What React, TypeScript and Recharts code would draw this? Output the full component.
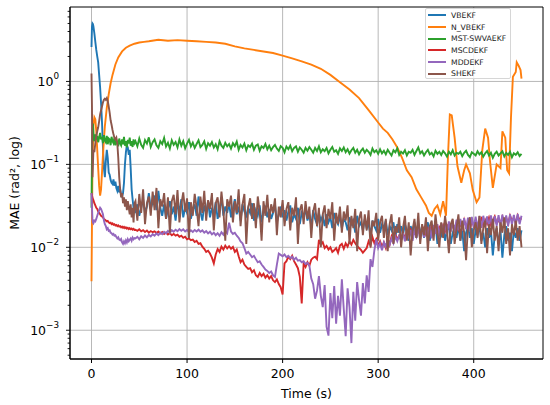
import { LineChart, Line, XAxis, YAxis, CartesianGrid } from 'recharts';

// time stamps shared by the noisy filters (fine steps at the start, 2 s afterwards)
const TIME = [
  0, 0.5, 1, 1.5,
  2, 3, 4, 5, 6, 7, 8, 9, 10, 11,
  12, 13, 14, 15, 16, 17, 18, 19, 20, 21,
  22, 23, 24, 25, 26, 27, 28, 29, 30, 31,
  32, 33, 34, 35, 36, 37, 38, 39, 40, 41,
  42, 43, 44, 45,
  46, 48, 50, 52, 54, 56, 58, 60, 62, 64,
  66, 68, 70, 72, 74, 76, 78, 80, 82, 84,
  86, 88, 90, 92, 94, 96, 98, 100, 102, 104,
  106, 108, 110, 112, 114, 116, 118, 120, 122, 124,
  126, 128, 130, 132, 134, 136, 138, 140, 142, 144,
  146, 148, 150, 152, 154, 156, 158, 160, 162, 164,
  166, 168, 170, 172, 174, 176, 178, 180, 182, 184,
  186, 188, 190, 192, 194, 196, 198, 200, 202, 204,
  206, 208, 210, 212, 214, 216, 218, 220, 222, 224,
  226, 228, 230, 232, 234, 236, 238, 240, 242, 244,
  246, 248, 250, 252, 254, 256, 258, 260, 262, 264,
  266, 268, 270, 272, 274, 276, 278, 280, 282, 284,
  286, 288, 290, 292, 294, 296, 298, 300, 302, 304,
  306, 308, 310, 312, 314, 316, 318, 320, 322, 324,
  326, 328, 330, 332, 334, 336, 338, 340, 342, 344,
  346, 348, 350, 352, 354, 356, 358, 360, 362, 364,
  366, 368, 370, 372, 374, 376, 378, 380, 382, 384,
  386, 388, 390, 392, 394, 396, 398, 400, 402, 404,
  406, 408, 410, 412, 414, 416, 418, 420, 422, 424,
  426, 428, 430, 432, 434, 436, 438, 440, 442, 444,
  446, 448, 450,
];

const VBEKF = [
  2.6, 4.6, 5.0, 4.9,
  4.6, 3.8, 3.0, 2.4, 2.0, 1.7, 1.2, 0.85, 0.55, 0.32,
  0.16, 0.09, 0.07, 0.11, 0.15, 0.12, 0.08, 0.075, 0.065, 0.06,
  0.058, 0.066, 0.055, 0.062, 0.052, 0.048, 0.055, 0.046, 0.05, 0.043,
  0.041, 0.045, 0.06, 0.1, 0.14, 0.17, 0.16, 0.13, 0.15, 0.09,
  0.05, 0.038, 0.03, 0.028,
  0.027, 0.033, 0.024, 0.03, 0.038, 0.026, 0.031, 0.045, 0.029, 0.035,
  0.042, 0.028, 0.048, 0.03, 0.024, 0.033, 0.022, 0.029, 0.036, 0.025,
  0.031, 0.021, 0.034, 0.027, 0.038, 0.023, 0.03, 0.026, 0.035, 0.022,
  0.028, 0.033, 0.024, 0.041, 0.027, 0.021, 0.032, 0.026, 0.036, 0.023,
  0.03, 0.025, 0.035, 0.022, 0.028, 0.04, 0.024, 0.031, 0.026, 0.034,
  0.023, 0.029, 0.038, 0.025, 0.031, 0.021, 0.033, 0.027, 0.024, 0.03,
  0.026, 0.034, 0.021, 0.028, 0.024, 0.032, 0.02, 0.027, 0.03, 0.023,
  0.029, 0.022, 0.026, 0.033, 0.02, 0.025, 0.031, 0.023, 0.028, 0.021,
  0.027, 0.032, 0.02, 0.025, 0.022, 0.03, 0.019, 0.026, 0.023, 0.029,
  0.021, 0.025, 0.018, 0.028, 0.022, 0.019, 0.026, 0.021, 0.024, 0.018,
  0.025, 0.02, 0.023, 0.017, 0.026, 0.021, 0.019, 0.024, 0.017, 0.022,
  0.02, 0.016, 0.023, 0.019, 0.021, 0.015, 0.024, 0.018, 0.02, 0.016,
  0.022, 0.017, 0.019, 0.014, 0.021, 0.018, 0.016, 0.022, 0.015, 0.019,
  0.017, 0.021, 0.014, 0.018, 0.016, 0.02, 0.013, 0.019, 0.015, 0.018,
  0.014, 0.019, 0.016, 0.012, 0.018, 0.015, 0.02, 0.013, 0.017, 0.015,
  0.018, 0.013, 0.016, 0.02, 0.012, 0.017, 0.014, 0.019, 0.011, 0.016,
  0.014, 0.018, 0.012, 0.016, 0.019, 0.011, 0.015, 0.017, 0.013, 0.018,
  0.012, 0.016, 0.009, 0.015, 0.018, 0.013, 0.017, 0.011, 0.016, 0.014,
  0.018, 0.012, 0.015, 0.01, 0.017, 0.013, 0.016, 0.008, 0.014, 0.017,
  0.011, 0.016, 0.0075, 0.014, 0.018, 0.012, 0.015, 0.009, 0.016, 0.013,
  0.017, 0.012, 0.016,
];

const MST_SWVAEKF = [
  0.03, 0.12, 0.26, 0.31,
  0.24, 0.19, 0.23, 0.2, 0.22, 0.185, 0.21, 0.24, 0.2, 0.215,
  0.18, 0.225, 0.195, 0.185, 0.22, 0.175, 0.205, 0.2, 0.17, 0.215,
  0.19, 0.18, 0.21, 0.17, 0.2, 0.18, 0.165, 0.205, 0.18, 0.17,
  0.2, 0.175, 0.215, 0.168, 0.19, 0.16, 0.198, 0.178, 0.21, 0.168,
  0.19, 0.162, 0.2, 0.18,
  0.19, 0.165, 0.205, 0.172, 0.158, 0.196, 0.178, 0.212, 0.162, 0.185,
  0.2, 0.17, 0.158, 0.19, 0.176, 0.208, 0.164, 0.182, 0.155, 0.195,
  0.172, 0.186, 0.16, 0.2, 0.168, 0.19, 0.156, 0.178, 0.198, 0.165,
  0.183, 0.158, 0.176, 0.195, 0.162, 0.172, 0.19, 0.154, 0.18, 0.168,
  0.186, 0.16, 0.175, 0.152, 0.19, 0.168, 0.158, 0.182, 0.165, 0.176,
  0.155, 0.18, 0.166, 0.188, 0.15, 0.172, 0.16, 0.178, 0.148, 0.17,
  0.162, 0.178, 0.15, 0.168, 0.174, 0.146, 0.165, 0.158, 0.176, 0.152,
  0.168, 0.148, 0.162, 0.172, 0.155, 0.145, 0.166, 0.158, 0.14, 0.164,
  0.152, 0.168, 0.144, 0.158, 0.165, 0.142, 0.16, 0.15, 0.138, 0.158,
  0.146, 0.162, 0.15, 0.138, 0.158, 0.145, 0.165, 0.14, 0.152, 0.144,
  0.158, 0.136, 0.15, 0.162, 0.142, 0.148, 0.134, 0.156, 0.145, 0.16,
  0.14, 0.152, 0.135, 0.148, 0.158, 0.138, 0.15, 0.132, 0.146, 0.155,
  0.138, 0.15, 0.142, 0.13, 0.155, 0.14, 0.148, 0.134, 0.152, 0.136,
  0.146, 0.132, 0.15, 0.138, 0.128, 0.148, 0.14, 0.156, 0.13, 0.142,
  0.135, 0.148, 0.128, 0.142, 0.138, 0.15, 0.13, 0.145, 0.16, 0.136,
  0.144, 0.128, 0.14, 0.15, 0.132, 0.138, 0.125, 0.146, 0.134, 0.142,
  0.13, 0.145, 0.136, 0.124, 0.142, 0.132, 0.148, 0.128, 0.138, 0.134,
  0.142, 0.126, 0.138, 0.146, 0.13, 0.122, 0.14, 0.134, 0.128, 0.144,
  0.132, 0.14, 0.124, 0.136, 0.145, 0.128, 0.138, 0.12, 0.134, 0.142,
  0.128, 0.136, 0.144, 0.125, 0.138, 0.13, 0.142, 0.122, 0.136, 0.13,
  0.14, 0.126, 0.134,
];

const MSCDEKF = [
  0.045, 0.042, 0.04, 0.038,
  0.037, 0.034, 0.032, 0.03, 0.029, 0.027, 0.026, 0.025, 0.024, 0.0235,
  0.023, 0.022, 0.0215, 0.021, 0.0205, 0.0208, 0.02, 0.0196, 0.0198, 0.019,
  0.0194, 0.0187, 0.019, 0.0183, 0.0186, 0.018, 0.0184, 0.0178, 0.018, 0.0174,
  0.0178, 0.0172, 0.0176, 0.017, 0.0174, 0.0168, 0.0172, 0.0166, 0.017, 0.0165,
  0.0168, 0.0163, 0.0167, 0.0162,
  0.0163, 0.0158, 0.0165, 0.0156, 0.0161, 0.0153, 0.0159, 0.015, 0.0157, 0.0152,
  0.0156, 0.0149, 0.0155, 0.0147, 0.0153, 0.0145, 0.0151, 0.0143, 0.0148, 0.014,
  0.0145, 0.0138, 0.0142, 0.0134, 0.0138, 0.013, 0.0134, 0.0125, 0.0128, 0.0122,
  0.0124, 0.0116, 0.012, 0.011, 0.0112, 0.0102, 0.0096, 0.0088, 0.0091, 0.0084,
  0.0075, 0.0064, 0.0082, 0.0095, 0.0088, 0.0102, 0.0094, 0.0105, 0.0097, 0.0103,
  0.0096, 0.0101, 0.0088, 0.0094, 0.0078, 0.0066, 0.0071, 0.0062, 0.0058, 0.0055,
  0.0056, 0.005, 0.0053, 0.0046, 0.0044, 0.0049, 0.0045, 0.0048, 0.0043, 0.0046,
  0.0042, 0.0045, 0.004, 0.0038, 0.0041, 0.0036, 0.0033, 0.0027, 0.0064, 0.0068,
  0.0077, 0.0072, 0.0079, 0.0068, 0.0062, 0.0056, 0.0044, 0.0021, 0.0064, 0.0058,
  0.0066, 0.006, 0.0071, 0.0075, 0.0077, 0.0072, 0.0123, 0.0108, 0.0115, 0.0098,
  0.0104, 0.0094, 0.01, 0.0088, 0.0092, 0.0098, 0.0086, 0.0105, 0.011, 0.0096,
  0.0112, 0.0102, 0.0118, 0.0108, 0.0123, 0.0112, 0.0104, 0.0098, 0.0093, 0.0086,
  0.0092, 0.0098, 0.0118, 0.0105, 0.0133, 0.0112, 0.0125, 0.0104, 0.0118, 0.0102,
  0.0114, 0.0098, 0.0126, 0.0108, 0.0135, 0.0118, 0.0142, 0.0125, 0.0138, 0.0122,
  0.0148, 0.0128, 0.0155, 0.0138, 0.0162, 0.0135, 0.0152, 0.014, 0.0165, 0.0145,
  0.0158, 0.0172, 0.0145, 0.0168, 0.0152, 0.0178, 0.0156, 0.0182, 0.0148, 0.0175,
  0.016, 0.0185, 0.0155, 0.0178, 0.0192, 0.0162, 0.0188, 0.017, 0.0198, 0.0165,
  0.0192, 0.0172, 0.0214, 0.0178, 0.0196, 0.0168, 0.0205, 0.0185, 0.021, 0.0175,
  0.02, 0.0222, 0.0182, 0.0215, 0.0192, 0.0228, 0.0186, 0.021, 0.0235, 0.0195,
  0.0218, 0.0188, 0.0232, 0.0202, 0.0225, 0.0192, 0.024, 0.0208, 0.0228, 0.0198,
  0.0242, 0.0212, 0.0225,
];

const MDDEKF = [
  0.045, 0.03, 0.022, 0.02,
  0.0195, 0.021, 0.0205, 0.022, 0.024, 0.026, 0.028, 0.03, 0.029, 0.027,
  0.025, 0.021, 0.019, 0.018, 0.0165, 0.017, 0.0158, 0.016, 0.015, 0.0148,
  0.0142, 0.0145, 0.0138, 0.014, 0.0133, 0.0128, 0.0132, 0.0124, 0.0122, 0.0126,
  0.0115, 0.011, 0.0118, 0.0112, 0.0121, 0.0114, 0.0125, 0.0118, 0.0123, 0.0128,
  0.012, 0.0131, 0.0125, 0.0129,
  0.0128, 0.0134, 0.0125, 0.0136, 0.013, 0.0139, 0.0132, 0.0141, 0.0135, 0.0144,
  0.0138, 0.0147, 0.014, 0.015, 0.0144, 0.0154, 0.0147, 0.0158, 0.015, 0.0161,
  0.0154, 0.0163, 0.0156, 0.0166, 0.0158, 0.0165, 0.0155, 0.0162, 0.0152, 0.016,
  0.0153, 0.0162, 0.0155, 0.0163, 0.0154, 0.016, 0.015, 0.0157, 0.0147, 0.0154,
  0.0143, 0.015, 0.014, 0.0148, 0.0138, 0.0152, 0.0142, 0.0158, 0.0148, 0.0198,
  0.0155, 0.0145, 0.015, 0.0138, 0.013, 0.0118, 0.0112, 0.0098, 0.0084, 0.0088,
  0.0082, 0.0076, 0.0079, 0.0072, 0.0066, 0.0068, 0.0062, 0.0058, 0.0054, 0.0052,
  0.0049, 0.0051, 0.0046, 0.0044, 0.0062, 0.0084, 0.0081, 0.0078, 0.0082, 0.0076,
  0.0079, 0.0074, 0.0077, 0.0071, 0.0075, 0.0069, 0.007, 0.0066, 0.0068, 0.0063,
  0.0065, 0.006, 0.0042, 0.0036, 0.0024, 0.003, 0.0045, 0.0026, 0.0019, 0.0035,
  0.0011, 0.00086, 0.0028, 0.0014, 0.0034, 0.0012, 0.0026, 0.0015, 0.0041, 0.0018,
  0.00085, 0.0032, 0.0019, 0.0007, 0.0029, 0.0013, 0.0038, 0.0023, 0.0015, 0.0037,
  0.0021, 0.0046, 0.0029, 0.0072, 0.0058, 0.0092, 0.0125, 0.0098, 0.0112, 0.0092,
  0.0115, 0.0102, 0.0124, 0.0108, 0.0128, 0.0112, 0.0135, 0.0118, 0.0138, 0.0122,
  0.0148, 0.0118, 0.0155, 0.0128, 0.0162, 0.012, 0.0158, 0.0135, 0.0168, 0.0126,
  0.017, 0.0132, 0.0178, 0.0138, 0.0182, 0.0128, 0.0186, 0.0145, 0.019, 0.0136,
  0.0195, 0.0148, 0.02, 0.0142, 0.0205, 0.0155, 0.021, 0.015, 0.0215, 0.016,
  0.022, 0.0158, 0.0224, 0.0165, 0.0228, 0.016, 0.0232, 0.017, 0.0235, 0.0168,
  0.0238, 0.0172, 0.024, 0.0178, 0.0236, 0.0175, 0.0242, 0.018, 0.0238, 0.0182,
  0.0244, 0.0178, 0.0248, 0.0185, 0.0242, 0.018, 0.025, 0.0188, 0.0246, 0.0184,
  0.0252, 0.019, 0.024,
];

const SHEKF = [
  1.25, 0.5, 0.07, 0.1,
  0.15, 0.14, 0.18, 0.22, 0.25, 0.28, 0.33, 0.4, 0.45, 0.5,
  0.56, 0.6, 0.62, 0.6, 0.63, 0.58, 0.5, 0.42, 0.34, 0.3,
  0.26, 0.23, 0.21, 0.2, 0.21, 0.18, 0.12, 0.07, 0.05, 0.04,
  0.045, 0.034, 0.04, 0.031, 0.038, 0.028, 0.036, 0.03, 0.025, 0.033,
  0.023, 0.03, 0.02, 0.034,
  0.036, 0.021, 0.044, 0.026, 0.05, 0.019, 0.034, 0.041, 0.024, 0.047,
  0.028, 0.052, 0.017, 0.038, 0.031, 0.045, 0.022, 0.04, 0.015, 0.036,
  0.043, 0.025, 0.049, 0.02, 0.033, 0.046, 0.027, 0.039, 0.013, 0.035,
  0.024, 0.044, 0.03, 0.018, 0.041, 0.026, 0.048, 0.021, 0.037, 0.029,
  0.045, 0.016, 0.034, 0.04, 0.023, 0.047, 0.028, 0.012, 0.038, 0.031,
  0.042, 0.02, 0.036, 0.026, 0.05, 0.018, 0.033, 0.044, 0.011, 0.03,
  0.039, 0.022, 0.034, 0.017, 0.041, 0.027, 0.012, 0.036, 0.024, 0.043,
  0.02, 0.033, 0.026, 0.039, 0.014, 0.031, 0.023, 0.037, 0.018, 0.029,
  0.035, 0.016, 0.03, 0.024, 0.04, 0.011, 0.028, 0.033, 0.019, 0.036,
  0.022, 0.031, 0.013, 0.027, 0.034, 0.018, 0.03, 0.01, 0.025, 0.032,
  0.017, 0.029, 0.022, 0.035, 0.012, 0.026, 0.019, 0.031, 0.015, 0.027,
  0.021, 0.032, 0.011, 0.024, 0.017, 0.029, 0.009, 0.022, 0.027, 0.014,
  0.025, 0.016, 0.028, 0.01, 0.021, 0.018, 0.026, 0.012, 0.02, 0.024,
  0.013, 0.022, 0.009, 0.019, 0.025, 0.011, 0.018, 0.015, 0.023, 0.01,
  0.017, 0.024, 0.012, 0.02, 0.008, 0.016, 0.022, 0.013, 0.026, 0.011,
  0.019, 0.014, 0.023, 0.009, 0.018, 0.021, 0.012, 0.025, 0.015, 0.01,
  0.02, 0.013, 0.024, 0.016, 0.0085, 0.019, 0.022, 0.011, 0.017, 0.025,
  0.012, 0.021, 0.015, 0.007, 0.018, 0.023, 0.01, 0.016, 0.02, 0.013,
  0.024, 0.011, 0.017, 0.021, 0.0085, 0.019, 0.014, 0.022, 0.012, 0.018,
  0.009, 0.02, 0.015, 0.023, 0.011, 0.017, 0.008, 0.019, 0.014, 0.021,
  0.012, 0.018, 0.01,
];

// N_VBEKF is smooth most of the time, so it has its own time stamps
const N_VBEKF_TIME = [
  0, 1, 2, 3, 4, 5, 6, 7, 8, 9, 10, 11, 12, 13, 14, 16, 18, 20, 22, 25,
  28, 32, 36, 40, 45, 50, 55, 60, 65, 70, 80, 90, 100, 110, 120, 130, 140, 150, 160, 170,
  180, 190, 200, 210, 220, 230, 240, 250, 260, 270, 280, 290, 300, 305, 310, 315, 320, 325, 330, 335,
  340, 345, 350, 353, 356, 359, 362, 365, 368, 371, 373, 375, 377, 380, 383, 387, 390, 392, 396, 399,
  403, 406, 409, 412, 415, 417, 420, 424, 428, 430, 433, 435, 437, 439, 441, 444, 445, 447, 449, 450,
];
const N_VBEKF = [
  0.0039, 0.1, 0.3, 0.37, 0.35, 0.25, 0.15, 0.09, 0.055, 0.042, 0.05, 0.08, 0.13, 0.2, 0.29, 0.48, 0.7, 0.95, 1.2, 1.6,
  1.95, 2.3, 2.55, 2.7, 2.85, 2.95, 3.0, 3.05, 3.12, 3.18, 3.1, 3.15, 3.1, 3.05, 3.0, 2.95, 2.85, 2.65, 2.5, 2.4,
  2.3, 2.2, 2.05, 1.9, 1.75, 1.6, 1.42, 1.2, 0.98, 0.8, 0.63, 0.45, 0.32, 0.27, 0.24, 0.2, 0.16, 0.12, 0.085, 0.07,
  0.05, 0.04, 0.032, 0.026, 0.024, 0.029, 0.032, 0.025, 0.036, 0.024, 0.12, 0.4, 0.39, 0.21, 0.095, 0.06, 0.085, 0.1, 0.078, 0.049,
  0.035, 0.04, 0.15, 0.27, 0.21, 0.11, 0.052, 0.1, 0.09, 0.25, 0.21, 0.085, 0.078, 0.37, 1.14, 1.3, 1.7, 1.55, 1.37, 1.08,
];

const X_DOMAIN = [-22.5, 472.5];
const Y_DOMAIN = [0.00045, 7.9];
const X_TICKS = [0, 100, 200, 300, 400];
const Y_MAJOR = [0.001, 0.01, 0.1, 1];
const Y_EXPONENTS = ['−3', '−2', '−1', '0'];
const Y_MINOR = [
  0.0005, 0.0006, 0.0007, 0.0008, 0.0009,
  0.002, 0.003, 0.004, 0.005, 0.006, 0.007, 0.008, 0.009,
  0.02, 0.03, 0.04, 0.05, 0.06, 0.07, 0.08, 0.09,
  0.2, 0.3, 0.4, 0.5, 0.6, 0.7, 0.8, 0.9,
  2, 3, 4, 5, 6, 7,
];

const SERIES = [
  { name: 'VBEKF', color: '#1f77b4', time: TIME, values: VBEKF },
  { name: 'N_VBEKF', color: '#ff7f0e', time: N_VBEKF_TIME, values: N_VBEKF },
  { name: 'MST-SWVAEKF', color: '#2ca02c', time: TIME, values: MST_SWVAEKF },
  { name: 'MSCDEKF', color: '#d62728', time: TIME, values: MSCDEKF },
  { name: 'MDDEKF', color: '#9467bd', time: TIME, values: MDDEKF },
  { name: 'SHEKF', color: '#8c564b', time: TIME, values: SHEKF },
];

const FONT = 'DejaVu Sans';
const TICK_SIZE = 4;
const Y_TICK_MARGIN = 7;

function LogTick(props: any) {
  const { x, y, payload } = props;
  const axisX = x + TICK_SIZE + Y_TICK_MARGIN;
  const idx = Y_MAJOR.indexOf(payload.value);
  const major = idx >= 0;
  return (
    <g>
      <line x1={axisX} x2={axisX - (major ? TICK_SIZE : 2.4)} y1={y} y2={y} stroke="#000" strokeWidth={0.9} />
      {major && (
        <text x={x} y={y + 4.5} textAnchor="end" fontSize={12.5} fill="#000" fontFamily={FONT}>
          <tspan>10</tspan>
          <tspan dy={-6.5} fontSize={8.8}>{Y_EXPONENTS[idx]}</tspan>
        </text>
      )}
    </g>
  );
}

function YLabel(props: any) {
  const { viewBox } = props;
  const cx = viewBox.x + 14;
  const cy = viewBox.y + viewBox.height / 2;
  return (
    <text
      x={cx}
      y={cy}
      transform={`rotate(-90 ${cx} ${cy})`}
      textAnchor="middle"
      dominantBaseline="central"
      fontSize={12.5}
      fill="#000"
      fontFamily={FONT}
    >
      MAE (rad², log)
    </text>
  );
}

export default function App() {
  return (
    <div style={{ position: 'relative', width: 550, height: 405, background: '#fff' }}>
      <style>{'body{margin:0}'}</style>
      <LineChart
        width={550}
        height={405}
        margin={{ top: 7, right: 7, bottom: 0, left: 0 }}
        style={{ fontFamily: FONT }}
      >
        <CartesianGrid
          horizontalValues={Y_MAJOR}
          verticalValues={X_TICKS}
          stroke="#b0b0b0"
          strokeWidth={0.9}
        />
        {/* axes frame (matplotlib spines) */}
        <CartesianGrid
          horizontalValues={Y_DOMAIN}
          verticalValues={X_DOMAIN}
          stroke="#000"
          strokeWidth={1}
        />
        <XAxis
          dataKey="t"
          type="number"
          domain={X_DOMAIN}
          ticks={X_TICKS}
          allowDataOverflow
          height={46}
          tickSize={TICK_SIZE}
          tickMargin={6}
          tick={{ fill: '#000', fontSize: 12.5 }}
          axisLine={{ stroke: '#000' }}
          tickLine={{ stroke: '#000' }}
          label={{ value: 'Time (s)', position: 'insideBottom', offset: 7, fill: '#000', fontSize: 12.5 }}
        />
        <YAxis
          type="number"
          scale="log"
          domain={Y_DOMAIN}
          allowDataOverflow
          ticks={[...Y_MAJOR, ...Y_MINOR]}
          interval={0}
          width={70}
          tickSize={TICK_SIZE}
          tickMargin={Y_TICK_MARGIN}
          tickLine={false}
          tick={<LogTick />}
          axisLine={{ stroke: '#000' }}
          label={<YLabel />}
        />
        {SERIES.map((s) => (
          <Line
            key={s.name}
            name={s.name}
            data={s.time.map((t, i) => ({ t, v: s.values[i] }))}
            dataKey="v"
            type="linear"
            stroke={s.color}
            strokeWidth={1.9}
            dot={false}
            activeDot={false}
            isAnimationActive={false}
          />
        ))}
      </LineChart>

      {/* legend, upper right */}
      <div
        style={{
          position: 'absolute',
          left: 425,
          top: 8,
          width: 86,
          height: 71,
          boxSizing: 'border-box',
          border: '1px solid #d6d6d6',
          borderRadius: 2,
          background: 'rgba(255,255,255,0.8)',
          fontFamily: FONT,
          fontSize: 7.7,
          paddingTop: 0.5,
        }}
      >
        {SERIES.map((s) => (
          <div key={s.name} style={{ display: 'flex', alignItems: 'center', height: 11.7 }}>
            <span style={{ display: 'inline-block', width: 18, height: 2, marginLeft: 2, background: s.color }} />
            <span style={{ marginLeft: 5, color: '#222', whiteSpace: 'nowrap' }}>{s.name}</span>
          </div>
        ))}
      </div>
    </div>
  );
}
